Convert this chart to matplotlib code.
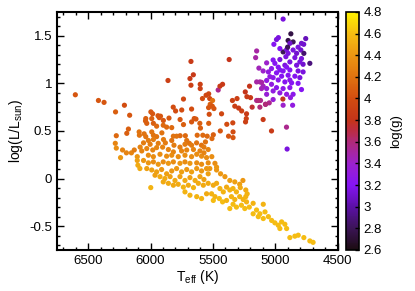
import matplotlib
matplotlib.use("Agg")
import numpy as np
from matplotlib import pyplot as plt
from matplotlib.colors import LinearSegmentedColormap
from matplotlib.ticker import MultipleLocator, FormatStrFormatter

plt.rcParams['font.family'] = ['Liberation Sans', 'DejaVu Sans']
plt.rcParams['mathtext.fontset'] = 'custom'
plt.rcParams['mathtext.rm'] = 'Liberation Sans'
plt.rcParams['mathtext.it'] = 'Liberation Sans:italic'

# hot end of the turnoff (sparse, left)
teff_a = [6602, 6417, 6372, 6280, 6209, 6167, 6274, 6177, 6190, 6282,
          6274, 6193, 6240, 6224, 6153, 6130, 6106, 6106, 6101, 6085]
logl_a = [0.88, 0.82, 0.80, 0.70, 0.77, 0.665, 0.45, 0.52, 0.475, 0.37,
          0.32, 0.27, 0.22, 0.30, 0.27, 0.30, 0.23, 0.19, 0.14, 0.105]
logg_a = [4.05, 4.05, 4.05, 4.1, 4.0, 4.05, 4.15, 4.1, 4.1, 4.3,
          4.35, 4.3, 4.4, 4.3, 4.3, 4.25, 4.4, 4.45, 4.5, 4.5]

# subgiants
teff_b = [5860, 5676, 5657, 5684, 5676, 5602, 5602, 5458, 5370, 5423,
          5444, 5534, 5555, 5584, 5526, 5736, 5818, 5997, 5983, 5920,
          5897, 5852, 5763, 5750, 5799, 5671, 5650, 5636, 5736, 5671,
          5503, 5522, 5535, 5505, 5492, 5605, 5534, 5600, 5530, 5431,
          5389, 5344, 5307, 5325, 5270, 5341, 5231, 5241, 5207, 5228,
          5199, 5233, 5239, 5294, 5098, 5186, 5031, 4940, 4911, 4906,
          5137, 5079, 5124]
logl_b = [1.03, 1.23, 1.09, 1.05, 0.98, 0.99, 0.945, 0.93, 1.25, 0.99,
          0.97, 0.89, 0.875, 0.84, 0.84, 0.835, 0.75, 0.70, 0.68, 0.655,
          0.61, 0.635, 0.62, 0.72, 0.71, 0.73, 0.63, 0.625, 0.567, 0.595,
          0.82, 0.78, 0.745, 0.76, 0.735, 0.58, 0.58, 0.53, 0.675, 0.68,
          0.57, 0.82, 0.84, 0.76, 0.71, 0.585, 0.68, 0.91, 0.97, 0.86,
          0.85, 0.63, 0.595, 0.74, 0.62, 0.75, 0.50, 0.835, 0.54, 0.31,
          0.82, 0.78, 0.75]
logg_b = [3.9, 3.85, 3.85, 3.85, 3.9, 3.9, 3.9, 3.55, 3.8, 3.85,
          3.85, 3.95, 3.95, 4.0, 3.95, 3.95, 4.0, 4.05, 4.05, 4.05,
          4.05, 4.05, 4.05, 4.0, 4.0, 4.0, 4.05, 4.05, 4.1, 4.05,
          4.2, 4.1, 4.05, 4.05, 4.05, 4.1, 4.1, 4.1, 4.0, 3.95,
          4.0, 3.9, 3.9, 3.9, 3.9, 3.95, 3.85, 3.8, 3.8, 3.85,
          3.85, 3.9, 3.9, 3.85, 3.85, 3.75, 3.85, 3.8, 3.55, 3.15,
          3.6, 3.6, 3.6]

# between subgiants and main sequence
teff_c = [5763, 5721, 5626, 5581, 5546, 5497, 5441, 5375, 5339, 5339,
          5508, 5560, 5592, 5710, 5689, 5631]
logl_c = [0.45, 0.45, 0.455, 0.455, 0.445, 0.46, 0.50, 0.445, 0.43, 0.49,
          0.42, 0.385, 0.35, 0.40, 0.37, 0.375]
logg_c = [4.15, 4.15, 4.15, 4.15, 4.15, 4.1, 4.05, 4.05, 4.05, 4.0,
          4.15, 4.2, 4.2, 4.2, 4.2, 4.2]

# upper main sequence band
teff_d = [6038, 6040, 5990, 6030, 5977, 5940, 5930, 5951, 5898, 5871,
          5830, 6091, 6089, 6051, 6038, 5990, 5977, 5951, 5909, 5896,
          5977, 6017, 6056, 6003, 5938, 5881, 5830, 5817, 5791, 5812,
          5764, 5724, 5671, 6083, 6070, 6030, 5982, 5951, 5903, 5857,
          5817, 5751, 5710, 5656, 5604, 5572, 5538, 6017, 5977, 5924,
          5871, 5830, 5778, 5724, 5671, 5630, 5591, 5551, 5509, 5572]
logl_d = [0.63, 0.605, 0.63, 0.58, 0.58, 0.66, 0.64, 0.55, 0.56, 0.54,
          0.535, 0.49, 0.455, 0.47, 0.44, 0.49, 0.455, 0.44, 0.48, 0.41,
          0.41, 0.40, 0.375, 0.36, 0.37, 0.375, 0.40, 0.445, 0.445, 0.35,
          0.33, 0.36, 0.35, 0.33, 0.29, 0.315, 0.30, 0.325, 0.33, 0.305,
          0.28, 0.29, 0.30, 0.305, 0.29, 0.33, 0.305, 0.245, 0.23, 0.255,
          0.235, 0.245, 0.23, 0.245, 0.23, 0.255, 0.235, 0.22, 0.23, 0.27]
logg_d = [4.1, 4.1, 4.1, 4.1, 4.1, 4.05, 4.05, 4.15, 4.15, 4.15,
          4.15, 4.2, 4.2, 4.2, 4.2, 4.2, 4.2, 4.2, 4.2, 4.25,
          4.25, 4.25, 4.25, 4.25, 4.25, 4.25, 4.2, 4.2, 4.2, 4.25,
          4.25, 4.25, 4.25, 4.3, 4.3, 4.3, 4.3, 4.3, 4.3, 4.3,
          4.3, 4.3, 4.3, 4.3, 4.3, 4.25, 4.3, 4.35, 4.35, 4.35,
          4.35, 4.35, 4.35, 4.35, 4.35, 4.35, 4.35, 4.35, 4.35, 4.3]

# lower main sequence band
teff_e = [6056, 6017, 5977, 5938, 5898, 5857, 5817, 5764, 5724, 5684,
          5630, 5591, 5538, 5484, 5471, 5525,
          6030, 5990, 5951, 5911, 5871, 5830, 5791, 5751, 5710, 5671,
          5630, 5591, 5551, 5538,
          5964, 5924, 5885, 5843, 5804, 5764, 5724, 5684, 5643, 5604, 5572,
          5898, 5857, 5817, 5778, 5737, 5697, 5656, 5617, 5577, 5538, 5497,
          5998, 5724, 5684, 5630, 5591, 5551]
logl_e = [0.19, 0.165, 0.175, 0.15, 0.175, 0.16, 0.175, 0.16, 0.175, 0.16,
          0.165, 0.15, 0.165, 0.16, 0.12, 0.105,
          0.105, 0.09, 0.07, 0.095, 0.05, 0.08, 0.105, 0.07, 0.095, 0.07,
          0.105, 0.08, 0.105, 0.05,
          0.035, 0.02, 0.0, 0.02, -0.02, 0.02, -0.02, 0.01, -0.02, 0.02, -0.01,
          -0.035, -0.05, -0.07, -0.06, -0.09, -0.07, -0.095, -0.05, -0.07, -0.05, -0.07,
          -0.095, -0.14, -0.175, -0.19, -0.21, -0.16]
logg_e = [4.4, 4.4, 4.35, 4.4, 4.35, 4.4, 4.35, 4.4, 4.35, 4.4,
          4.35, 4.35, 4.35, 4.35, 4.4, 4.4,
          4.45, 4.45, 4.45, 4.4, 4.45, 4.4, 4.4, 4.45, 4.4, 4.45,
          4.4, 4.4, 4.4, 4.45,
          4.45, 4.5, 4.5, 4.45, 4.5, 4.45, 4.5, 4.45, 4.5, 4.45, 4.45,
          4.5, 4.5, 4.5, 4.5, 4.55, 4.5, 4.55, 4.5, 4.5, 4.5, 4.5,
          4.55, 4.55, 4.55, 4.55, 4.55, 4.5]

# cool main sequence tail
teff_f = [5439, 5404, 5365, 5325, 5286, 5260, 5471, 5471, 5444, 5417,
          5391, 5365, 5339, 5312, 5281, 5237, 5226, 5511, 5484, 5449,
          5497, 5423, 5391, 5352, 5325, 5286, 5258, 5231, 5339, 5365,
          5312, 5272, 5245, 5209, 5178, 5097, 5151, 5124, 5083, 5178,
          5137, 5097, 5056, 5030, 5004, 4977, 4950, 4924, 4910, 4964,
          4884, 4844, 4817, 4772, 4724, 4698, 5237]
logl_f = [0.05, 0.02, -0.02, -0.035, -0.06, -0.02, 0.09, -0.05, -0.105, -0.14,
          -0.09, -0.12, -0.105, -0.14, -0.095, -0.12, -0.16, -0.16, -0.19, -0.21,
          -0.23, -0.245, -0.23, -0.19, -0.22, -0.19, -0.22, -0.245, -0.27, -0.315,
          -0.30, -0.28, -0.315, -0.30, -0.26, -0.27, -0.33, -0.37, -0.35, -0.37,
          -0.40, -0.42, -0.40, -0.44, -0.465, -0.49, -0.455, -0.48, -0.525, -0.525,
          -0.62, -0.605, -0.595, -0.62, -0.655, -0.67, -0.19]
logg_f = [4.4, 4.4, 4.45, 4.45, 4.45, 4.4, 4.4, 4.5, 4.55, 4.55,
          4.5, 4.55, 4.55, 4.55, 4.5, 4.5, 4.55, 4.55, 4.55, 4.6,
          4.6, 4.6, 4.55, 4.55, 4.55, 4.55, 4.55, 4.55, 4.6, 4.6,
          4.6, 4.6, 4.6, 4.6, 4.55, 4.55, 4.6, 4.6, 4.6, 4.6,
          4.6, 4.6, 4.6, 4.6, 4.6, 4.6, 4.6, 4.6, 4.6, 4.6,
          4.6, 4.6, 4.6, 4.6, 4.6, 4.6, 4.55]

# red giants
teff_g = [4938, 4876, 4898, 4858, 4938, 4991, 4976, 5012, 4884, 4791,
          4773, 4757, 4818, 4964, 4910, 4858, 4796, 5150, 5158, 5070,
          4724, 4916, 4844, 4791, 5018, 4964, 4884, 4830, 4778, 4924,
          4977, 5031, 5098, 5056, 4991, 4938, 4884, 4818, 4778, 4950,
          4898, 4844, 4804, 5018, 5070, 5124, 5150, 4977, 4924, 4870,
          4818, 5031, 5098, 5111, 5070, 4991, 4938, 4884, 4791, 5018,
          4964, 4910, 4858, 5070, 5150, 5119, 5018, 4879, 4938, 4862,
          5079, 5049, 4964, 4910, 5004, 4898, 4830, 4804, 5044, 4884,
          4772, 4902, 5132, 5110]
logl_g = [1.675, 1.52, 1.45, 1.435, 1.33, 1.46, 1.48, 1.41, 1.42, 1.42,
          1.41, 1.47, 1.38, 1.365, 1.355, 1.35, 1.35, 1.34, 1.27, 1.215,
          1.21, 1.28, 1.27, 1.26, 1.245, 1.25, 1.225, 1.19, 1.20, 1.19,
          1.17, 1.155, 1.13, 1.12, 1.11, 1.13, 1.14, 1.13, 1.12, 1.075,
          1.085, 1.075, 1.06, 1.06, 1.03, 1.015, 1.015, 1.035, 1.015, 1.005,
          1.0, 0.99, 0.97, 0.945, 0.945, 0.955, 0.945, 0.955, 0.935, 0.92,
          0.90, 0.885, 0.885, 0.885, 0.82, 0.82, 0.83, 0.85, 0.77, 0.77,
          0.78, 0.795, 1.14, 1.17, 1.21, 1.315, 1.315, 1.225, 1.07, 1.035,
          1.315, 1.38, 1.16, 1.01]
logg_g = [3.15, 2.75, 2.75, 2.8, 2.8, 3.15, 3.15, 3.2, 3.1, 3.1,
          3.1, 3.05, 3.15, 3.2, 3.15, 3.15, 3.1, 3.5, 3.5, 3.4,
          2.9, 3.15, 3.15, 3.15, 3.2, 3.15, 3.15, 3.15, 3.1, 3.15,
          3.2, 3.25, 3.4, 3.3, 3.2, 3.2, 3.2, 3.15, 3.15, 3.2,
          3.2, 3.2, 3.15, 3.25, 3.3, 3.5, 3.5, 3.25, 3.2, 3.2,
          3.2, 3.3, 3.45, 3.45, 3.35, 3.25, 3.25, 3.25, 3.2, 3.3,
          3.3, 3.3, 3.25, 3.35, 3.55, 3.55, 3.35, 3.3, 3.4, 3.3,
          3.5, 3.55, 3.2, 3.2, 3.2, 3.15, 3.1, 3.15, 3.3, 3.25,
          2.85, 2.8, 3.45, 3.5]

teff = np.array(teff_g + teff_b + teff_a + teff_c + teff_d + teff_e + teff_f)
logl = np.array(logl_g + logl_b + logl_a + logl_c + logl_d + logl_e + logl_f)
logg = np.array(logg_g + logg_b + logg_a + logg_c + logg_d + logg_e + logg_f)

# palette like the gnuplot one
pal = [(0.0, '#1c0c12'), (0.091, '#3c1458'), (0.182, '#5c10a8'),
       (0.273, '#8614f4'), (0.364, '#9c22cc'), (0.455, '#b02a78'),
       (0.5, '#bb2c44'), (0.545, '#c4341a'), (0.636, '#d24c10'),
       (0.727, '#e07210'), (0.818, '#ec9612'), (0.909, '#f5bc12'),
       (1.0, '#fff200')]
cmap = LinearSegmentedColormap.from_list('gp', pal)

fig = plt.figure(figsize=(4.15, 2.91), dpi=100)
ax = fig.add_axes([0.137, 0.141, 0.677, 0.818])
sc = ax.scatter(teff, logl, c=logg, cmap=cmap, vmin=2.6, vmax=4.8,
                s=14, linewidths=0)

ax.set_xlim(6750, 4500)
ax.set_ylim(-0.75, 1.75)
ax.xaxis.set_major_locator(MultipleLocator(500))
ax.xaxis.set_minor_locator(MultipleLocator(100))
ax.yaxis.set_major_locator(MultipleLocator(0.5))
ax.yaxis.set_minor_locator(MultipleLocator(0.1))
ax.yaxis.set_major_formatter(FormatStrFormatter('%g'))
ax.tick_params(which='both', direction='in', top=True, right=True,
               labelsize=9.5, width=1.0)
ax.tick_params(which='major', length=5)
ax.tick_params(which='minor', length=2.5)
for sp in ax.spines.values():
    sp.set_linewidth(1.5)

ax.set_xlabel(r'T$_{\rm eff}$ (K)', fontsize=10, labelpad=1)
ax.set_ylabel(r'log(L/L$_{\rm sun}$)', fontsize=10, labelpad=3)

cax = fig.add_axes([0.834, 0.141, 0.03, 0.818])
cb = fig.colorbar(sc, cax=cax, ticks=np.arange(2.6, 4.81, 0.2))
cb.ax.yaxis.set_major_formatter(FormatStrFormatter('%g'))
cb.ax.tick_params(direction='in', length=3, labelsize=9.5, width=1.0)
cb.outline.set_linewidth(1.2)
cb.set_label('log(g)', fontsize=9.5, labelpad=6)

fig.savefig('out.png', dpi=100)
